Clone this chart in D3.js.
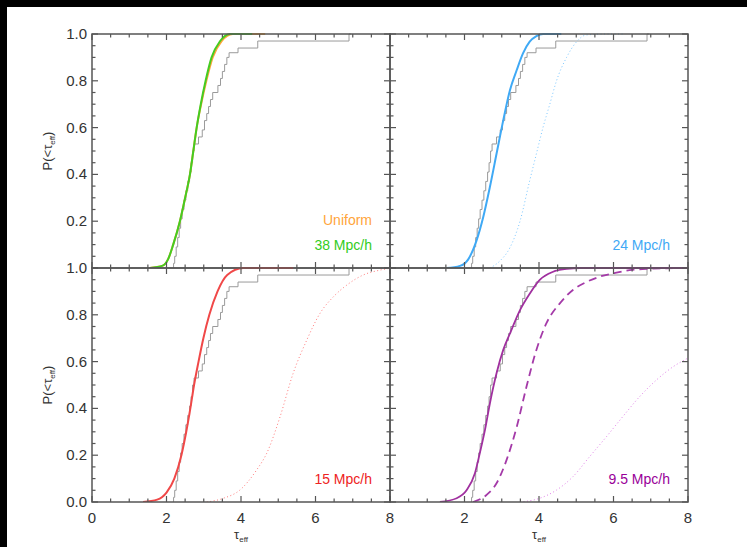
<!DOCTYPE html>
<html><head><meta charset="utf-8">
<script src="https://cdn.jsdelivr.net/npm/d3@7"></script>
<style>
html,body{margin:0;padding:0;background:#fff;}
svg{display:block;}
text{font-family:"Liberation Sans",Arial,Helvetica,sans-serif;}
</style></head>
<body>
<script>
// ---------------- data ----------------
const xTicks = [0, 2, 4, 6, 8];
const yTicks = [0.0, 0.2, 0.4, 0.6, 0.8, 1.0];

// observed cumulative distribution (grey step line), same in every panel
const obsTau = [2.17, 2.19, 2.22, 2.26, 2.30, 2.34, 2.38, 2.42, 2.47, 2.52, 2.57, 2.62, 2.66, 2.70, 2.74, 2.86, 2.96, 3.02, 3.08, 3.13, 3.18, 3.24, 3.38, 3.45, 3.50, 3.56, 3.62, 3.68, 3.92, 4.45, 6.90, 6.95];
const obsP   = [0.00, 0.02, 0.05, 0.09, 0.13, 0.17, 0.21, 0.25, 0.29, 0.33, 0.37, 0.41, 0.45, 0.50, 0.53, 0.56, 0.59, 0.63, 0.66, 0.69, 0.72, 0.75, 0.78, 0.81, 0.84, 0.87, 0.90, 0.92, 0.94, 0.97, 1.00, 1.00];

// top-left: uniform (orange) and 38 Mpc/h (green)
const orangeTau = [1.54, 1.90, 2.05, 2.18, 2.36, 2.50, 2.63, 2.72, 2.81, 2.93, 3.07, 3.24, 3.48, 3.78, 4.65];
const orangeP   = [0.00, 0.01, 0.04, 0.10, 0.20, 0.30, 0.40, 0.50, 0.60, 0.70, 0.80, 0.90, 0.97, 1.00, 1.00];
const greenTau  = [1.56, 1.90, 2.05, 2.18, 2.36, 2.50, 2.63, 2.72, 2.81, 2.92, 3.05, 3.21, 3.44, 3.70, 4.30];
const greenP    = [0.00, 0.01, 0.04, 0.10, 0.20, 0.30, 0.40, 0.50, 0.60, 0.70, 0.80, 0.90, 0.97, 1.00, 1.00];

// top-right: 24 Mpc/h
const blueTau    = [1.52, 1.88, 2.10, 2.32, 2.50, 2.68, 2.86, 3.04, 3.22, 3.40, 3.57, 3.75, 3.93, 4.11, 4.60];
const blueP      = [0.00, 0.009, 0.037, 0.116, 0.216, 0.345, 0.488, 0.631, 0.760, 0.845, 0.917, 0.967, 0.991, 1.00, 1.00];
const blueDotTau = [2.68, 2.95, 3.22, 3.49, 3.75, 3.93, 4.11, 4.29, 4.47, 4.74, 5.01, 5.27, 5.80, 6.30];
const blueDotP   = [0.00, 0.03, 0.087, 0.20, 0.373, 0.488, 0.602, 0.70, 0.80, 0.90, 0.967, 0.996, 1.00, 1.00];

// bottom-left: 15 Mpc/h
const redTau    = [1.37, 1.75, 2.00, 2.21, 2.40, 2.53, 2.64, 2.74, 2.86, 2.99, 3.15, 3.37, 3.63, 4.06, 5.40];
const redP      = [0.00, 0.01, 0.04, 0.10, 0.20, 0.30, 0.40, 0.50, 0.60, 0.70, 0.80, 0.90, 0.97, 1.00, 1.00];
const redDotTau = [3.08, 3.53, 3.97, 4.42, 4.69, 5.05, 5.40, 5.76, 6.12, 6.48, 6.84, 7.28, 7.73, 8.00];
const redDotP   = [0.00, 0.016, 0.051, 0.137, 0.208, 0.365, 0.55, 0.69, 0.806, 0.877, 0.927, 0.97, 0.991, 0.999];

// bottom-right: 9.5 Mpc/h
const purpleTau     = [1.34, 1.79, 2.06, 2.28, 2.41, 2.55, 2.68, 2.86, 3.04, 3.22, 3.49, 3.75, 4.02, 4.38, 4.74, 5.10, 8.00];
const purpleP       = [0.00, 0.016, 0.051, 0.123, 0.208, 0.308, 0.42, 0.55, 0.65, 0.72, 0.82, 0.89, 0.949, 0.984, 0.996, 1.00, 1.00];
const purpleDashTau = [2.23, 2.59, 2.86, 3.13, 3.40, 3.66, 3.93, 4.20, 4.56, 4.91, 5.27, 5.63, 5.99, 6.43, 6.88, 7.77];
const purpleDashP   = [0.00, 0.03, 0.08, 0.18, 0.32, 0.49, 0.65, 0.764, 0.849, 0.906, 0.94, 0.963, 0.977, 0.991, 0.996, 1.00];
const purpleDotTau  = [3.49, 4.02, 4.47, 4.91, 5.36, 5.81, 6.25, 6.70, 7.15, 7.60, 8.00];
const purpleDotP    = [0.00, 0.016, 0.051, 0.108, 0.194, 0.279, 0.365, 0.45, 0.521, 0.578, 0.615];

const panelLabels = [["Uniform", "38 Mpc/h"], ["24 Mpc/h"], ["15 Mpc/h"], ["9.5 Mpc/h"]];

// ---------------- layout ----------------
const W = 747, H = 547;
const svg = d3.select("body").append("svg").attr("width", W).attr("height", H);
svg.append("rect").attr("width", W).attr("height", H).attr("fill", "#fff");
svg.append("rect").attr("x", 0).attr("y", 0).attr("width", W).attr("height", 7).attr("fill", "#000");
svg.append("rect").attr("x", 0).attr("y", 0).attr("width", 7).attr("height", H).attr("fill", "#000");

const colX = [[92, 390], [390, 688]];
const rowY = [[34, 268], [268, 502]];

const zip = (a, b) => a.map((v, i) => [v, b[i]]);

const panels = [
  { c: 0, r: 0, labels: panelLabels[0], labelColors: ["#ffa53a", "#33cc22"],
    series: [
      { d: zip(orangeTau, orangeP), color: "#ffa53a", w: 2, dash: null },
      { d: zip(greenTau, greenP), color: "#44cc22", w: 2, dash: null } ] },
  { c: 1, r: 0, labels: panelLabels[1], labelColors: ["#3fa9f5"],
    series: [
      { d: zip(blueDotTau, blueDotP), color: "#7cc8ff", w: 1, dash: "1,2.5" },
      { d: zip(blueTau, blueP), color: "#3fa9f5", w: 2, dash: null } ] },
  { c: 0, r: 1, labels: panelLabels[2], labelColors: ["#ee2222"],
    series: [
      { d: zip(redDotTau, redDotP), color: "#ff7a7a", w: 1, dash: "1,2.5" },
      { d: zip(redTau, redP), color: "#f04848", w: 2, dash: null } ] },
  { c: 1, r: 1, labels: panelLabels[3], labelColors: ["#990099"],
    series: [
      { d: zip(purpleDotTau, purpleDotP), color: "#e080e8", w: 1, dash: "1,2.5" },
      { d: zip(purpleDashTau, purpleDashP), color: "#a43aa8", w: 1.8, dash: "8,5" },
      { d: zip(purpleTau, purpleP), color: "#a0309f", w: 1.8, dash: null } ] }
];

const axisCol = "#555";
const textCol = "#333";

panels.forEach((p, i) => {
  const [x0, x1] = colX[p.c];
  const [y0, y1] = rowY[p.r];
  const x = d3.scaleLinear().domain([0, 8]).range([x0, x1]);
  const y = d3.scaleLinear().domain([0, 1]).range([y1, y0]);
  const g = svg.append("g");

  const clipId = "clip" + i;
  svg.append("clipPath").attr("id", clipId).append("rect")
    .attr("x", x0).attr("y", y0 - 1).attr("width", x1 - x0).attr("height", y1 - y0 + 1);
  const plot = g.append("g").attr("clip-path", `url(#${clipId})`);

  // observed step CDF
  plot.append("path")
    .attr("d", d3.line().x(d => x(d[0])).y(d => y(d[1])).curve(d3.curveStepAfter)(zip(obsTau, obsP)))
    .attr("fill", "none").attr("stroke", "#9a9a9a").attr("stroke-width", 1);

  p.series.forEach(s => {
    plot.append("path")
      .attr("d", d3.line().x(d => x(d[0])).y(d => y(d[1])).curve(d3.curveMonotoneX)(s.d))
      .attr("fill", "none").attr("stroke", s.color).attr("stroke-width", s.w)
      .attr("stroke-dasharray", s.dash);
  });

  // axes, IDL style: ticks inward on all four sides
  const minorX = d3.range(0, 8.001, 0.5);
  const minorY = d3.range(0, 1.0001, 0.05);
  const maj = 6, mnr = 3.5;
  const tickG = g.append("g").attr("stroke", axisCol).attr("stroke-width", 1.2);
  minorX.forEach(t => {
    const isMaj = Math.abs(t / 2 - Math.round(t / 2)) < 1e-6;
    const L = isMaj ? maj : mnr;
    tickG.append("line").attr("x1", x(t)).attr("x2", x(t)).attr("y1", y1).attr("y2", y1 - L);
    tickG.append("line").attr("x1", x(t)).attr("x2", x(t)).attr("y1", y0).attr("y2", y0 + L);
  });
  minorY.forEach(t => {
    const isMaj = Math.abs(t / 0.2 - Math.round(t / 0.2)) < 1e-6;
    const L = isMaj ? maj : mnr;
    tickG.append("line").attr("y1", y(t)).attr("y2", y(t)).attr("x1", x0).attr("x2", x0 + L);
    tickG.append("line").attr("y1", y(t)).attr("y2", y(t)).attr("x1", x1).attr("x2", x1 - L);
  });
  g.append("rect").attr("x", x0).attr("y", y0).attr("width", x1 - x0).attr("height", y1 - y0)
    .attr("fill", "none").attr("stroke", axisCol).attr("stroke-width", 1.5);

  // tick labels
  if (p.c === 0) {
    yTicks.forEach(t => {
      if (p.r === 0 && t === 0) return;
      g.append("text").attr("x", x0 - 5).attr("y", y(t) + 5).attr("text-anchor", "end")
        .attr("font-size", 15).attr("fill", textCol).text(d3.format(".1f")(t));
    });
    const cy = (y0 + y1) / 2;
    const lab = g.append("text").attr("transform", `translate(52,${cy}) rotate(-90)`)
      .attr("text-anchor", "middle").attr("font-size", 13).attr("fill", textCol);
    lab.append("tspan").text("P(<τ");
    lab.append("tspan").attr("font-size", 8).attr("dy", 3).text("eff");
    lab.append("tspan").attr("dy", -3).text(")");
  }
  if (p.r === 1) {
    xTicks.forEach(t => {
      if (p.c === 1 && t === 0) return;
      g.append("text").attr("x", x(t)).attr("y", y1 + 21).attr("text-anchor", "middle")
        .attr("font-size", 15).attr("fill", textCol).text(String(t));
    });
    const lab = g.append("text").attr("x", (x0 + x1) / 2).attr("y", 539)
      .attr("text-anchor", "middle").attr("font-size", 13).attr("fill", textCol);
    lab.append("tspan").text("τ");
    lab.append("tspan").attr("font-size", 8).attr("dy", 3).text("eff");
  }

  // panel labels
  const n = p.labels.length;
  p.labels.forEach((t, k) => {
    g.append("text").attr("x", x1 - 18).attr("y", y1 - 18 - (n - 1 - k) * 25)
      .attr("text-anchor", "end").attr("font-size", 14).attr("fill", p.labelColors[k]).text(t);
  });
});
</script>
</body></html>
